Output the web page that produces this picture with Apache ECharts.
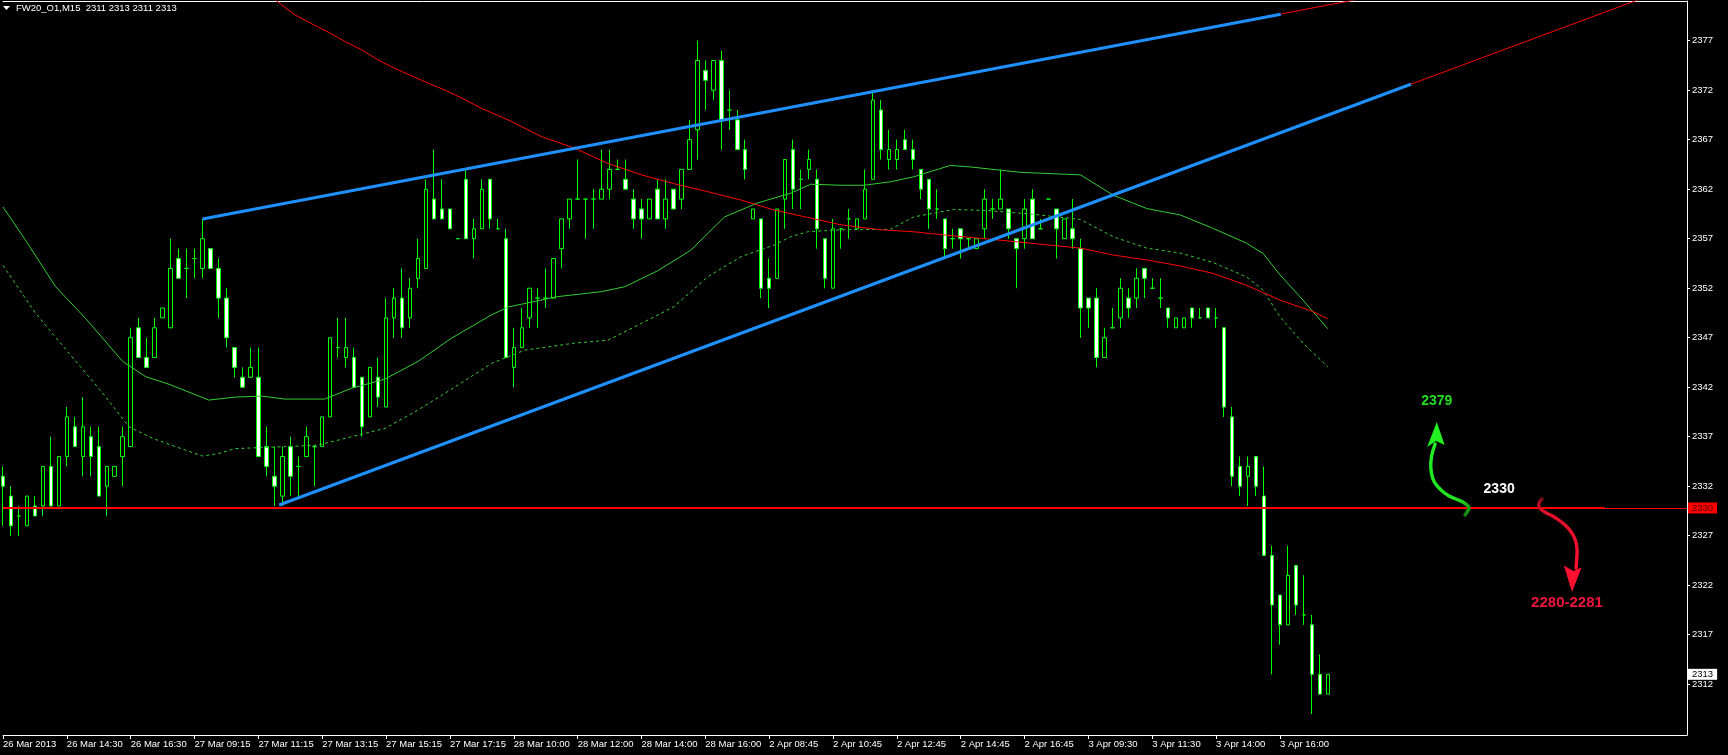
<!DOCTYPE html>
<html><head><meta charset="utf-8">
<script src="https://cdn.jsdelivr.net/npm/echarts@6/dist/echarts.min.js"></script>
<style>html,body{margin:0;padding:0;background:#000;}#c{width:1728px;height:755px;}</style>
</head><body><div id="c"></div>
<script>
// ---------- data ----------
const symbolName = 'FW20_O1,M15';
const tickLabels = ['26 Mar 2013','26 Mar 14:30','26 Mar 16:30','27 Mar 09:15','27 Mar 11:15','27 Mar 13:15','27 Mar 15:15','27 Mar 17:15','28 Mar 10:00','28 Mar 12:00','28 Mar 14:00','28 Mar 16:00','2 Apr 08:45','2 Apr 10:45','2 Apr 12:45','2 Apr 14:45','2 Apr 16:45','3 Apr 09:30','3 Apr 11:30','3 Apr 14:00','3 Apr 16:00'];
const barsPerLabel = 8;
const totalSlots = 212;
const yTicks = [2312,2317,2322,2327,2332,2337,2342,2347,2352,2357,2362,2367,2372,2377];

const opens = [2333,2331,2329,2328,2330,2330,2334,2330,2335,2338, 2335,2337,2336,2332,2333,2335,2336,2348,2345,2345,
 2349,2348,2355,2354,2355,2354,2356,2354,2351,2346, 2343,2343,2343,2336,2333,2331,2336,2334,2335,2336,
 2336,2339,2346,2345,2345,2343,2339,2343,2340,2349, 2351,2349,2353,2354,2361,2360,2360,2357,2363,2357,
 2358,2363,2358,2357,2344,2346,2349,2351,2351,2351, 2356,2359,2361,2361,2361,2361,2362,2364,2363,2361,
 2360,2359,2362,2359,2362,2361,2364,2368,2374,2372, 2375,2370,2369,2366,2359,2359,2353,2353,2361,2366,
 2363,2364,2363,2357,2352,2358,2359,2358,2359,2363, 2370,2365,2365,2367,2366,2364,2363,2360,2359,2357,
 2358,2357,2356,2358,2360,2360,2360,2357,2357,2361, 2358,2361,2360,2357,2358,2356,2351,2351,2345,2348,
 2349,2351,2351,2354,2352,2351,2350,2348,2348,2350, 2349,2350,2349,2348,2339,2334,2333,2335,2331,2325,
 2321,2318,2324,2319,2318,2313,2311];
const closes = [2332,2328,2329,2331,2329,2334,2330,2335,2339,2336, 2338,2335,2331,2334,2334,2337,2347,2345,2344,2348,
 2350,2354,2353,2354,2355,2357,2354,2351,2347,2344, 2342,2344,2335,2334,2332,2335,2333,2334,2337,2336,
 2339,2347,2346,2346,2342,2338,2344,2341,2349,2351, 2348,2352,2355,2362,2359,2359,2358,2357,2357,2358,
 2362,2359,2358,2345,2346,2348,2352,2351,2351,2355, 2359,2361,2361,2361,2361,2362,2364,2364,2362,2359,
 2359,2361,2359,2361,2360,2364,2367,2375,2373,2375, 2369,2370,2366,2364,2360,2352,2352,2360,2365,2362,
 2363,2365,2358,2353,2358,2358,2359,2359,2362,2371, 2366,2366,2366,2366,2365,2362,2360,2360,2356,2357,
 2357,2357,2357,2361,2360,2361,2358,2356,2360,2357, 2358,2361,2358,2359,2357,2350,2350,2345,2347,2348,
 2352,2350,2353,2353,2352,2351,2349,2349,2349,2349, 2349,2349,2349,2340,2333,2332,2334,2332,2325,2320,
 2318,2323,2320,2319,2313,2311,2313];
const lows = [2328,2327,2327,2328,2329,2329,2330,2330,2334,2336, 2333,2333,2331,2329,2333,2332,2336,2345,2344,2345,
 2349,2348,2353,2351,2353,2353,2354,2349,2346,2343, 2342,2343,2335,2333,2330,2330,2331,2331,2335,2332,
 2336,2339,2345,2344,2342,2337,2339,2340,2340,2347, 2347,2348,2352,2354,2359,2359,2358,2357,2357,2355,
 2358,2358,2358,2345,2342,2346,2348,2348,2350,2351, 2354,2358,2361,2357,2358,2361,2361,2364,2362,2358,
 2357,2359,2359,2358,2360,2360,2364,2365,2370,2371, 2366,2368,2366,2363,2359,2351,2350,2353,2358,2360,
 2360,2363,2356,2352,2352,2356,2357,2358,2359,2363, 2365,2364,2364,2366,2364,2361,2358,2359,2355,2356,
 2355,2356,2356,2357,2359,2360,2357,2352,2356,2357, 2358,2361,2355,2357,2356,2347,2348,2344,2345,2348,
 2348,2349,2350,2351,2352,2350,2348,2348,2348,2348, 2349,2349,2348,2339,2332,2331,2330,2331,2325,2313,
 2316,2318,2319,2318,2309,2311,2311];
const highs = [2334,2332,2330,2331,2331,2334,2337,2335,2340,2339, 2341,2338,2338,2334,2334,2338,2348,2349,2347,2349,
 2350,2357,2356,2356,2356,2359,2356,2355,2352,2346, 2344,2346,2346,2338,2336,2336,2337,2335,2338,2336,
 2339,2347,2349,2349,2346,2343,2344,2345,2351,2352, 2354,2353,2357,2363,2366,2363,2360,2357,2364,2359,
 2363,2363,2359,2358,2348,2350,2352,2352,2354,2355, 2359,2361,2365,2361,2362,2366,2366,2365,2365,2362,
 2361,2361,2363,2363,2362,2364,2369,2377,2375,2375, 2376,2372,2370,2367,2360,2359,2355,2360,2365,2367,
 2364,2366,2364,2357,2359,2358,2360,2359,2364,2372, 2371,2368,2367,2368,2367,2364,2363,2362,2359,2358,
 2358,2357,2357,2362,2361,2364,2360,2357,2361,2362, 2359,2361,2360,2359,2361,2357,2351,2352,2348,2350,
 2353,2352,2354,2354,2353,2353,2350,2349,2349,2350, 2350,2350,2350,2348,2340,2335,2335,2335,2334,2326,
 2321,2326,2324,2323,2319,2315,2313];

// moving averages: [bar index, price]
const maRed = [[30,2383.8],[34.3,2381.0],[36.6,2379.6],[38.7,2378.7],[40.8,2377.85],[42.9,2376.9],[45,2376.05],[47,2375.05],[49.1,2374.2],[51.2,2373.45],[53.3,2372.7],[55.4,2372.0],[57.5,2371.2],[60,2370.15],[63.3,2369.0],[67.5,2367.3],[71.6,2366.15],[75.8,2364.6],[80,2363.45],[84.1,2362.55],[88.3,2361.75],[92.5,2360.9],[96.6,2359.9],[100.8,2359.15],[105,2358.4],[110,2357.9],[114.1,2357.7],[118.3,2357.35],[123.7,2356.95],[128.7,2356.55],[135,2356.05],[139.1,2355.35],[143.3,2354.85],[147.5,2354.25],[151.6,2353.5],[155.8,2352.3],[160,2350.8],[164.1,2349.65],[166,2348.9]];
const maGreen = [[0,2360.2],[2.7,2357.0],[6.6,2352.15],[10.4,2348.9],[15,2344.6],[17.9,2343.05],[20.8,2342.3],[25.8,2340.7],[29.1,2341.0],[32.5,2341.1],[35.3,2340.8],[40.3,2340.8],[43.7,2341.9],[47.8,2342.8],[52,2344.6],[56.2,2346.95],[61.2,2349.3],[63.3,2350.1],[69.5,2351.15],[75,2351.65],[77.9,2352.15],[82,2353.75],[86.2,2355.85],[90.4,2359.2],[94.5,2360.6],[98.7,2361.6],[101.2,2362.5],[105,2362.4],[107.9,2362.4],[111.2,2362.75],[114.1,2363.25],[118.7,2364.4],[121.2,2364.25],[127.5,2363.7],[135,2363.45],[139.1,2361.4],[143.3,2360.05],[147.5,2359.4],[151.6,2358.05],[155.8,2356.55],[157.9,2355.5],[160,2353.35],[162.5,2351.15],[166,2347.9]];
const maGreenDash = [[0,2354.3],[4.1,2349.45],[8.3,2345.4],[12.5,2341.4],[15.8,2338.0],[18.7,2336.85],[21.6,2336.0],[25,2335.05],[27,2335.3],[29.1,2335.8],[35.4,2336.0],[39.5,2336.15],[43.7,2337.0],[47.9,2337.85],[52,2339.7],[56.2,2341.8],[61.2,2344.4],[65.4,2345.75],[71.6,2346.45],[75.8,2346.75],[80,2348.45],[84.1,2350.15],[88.3,2353.15],[92.5,2355.2],[96.6,2356.35],[98.7,2357.2],[100.8,2357.7],[105,2357.9],[111.2,2357.95],[114.1,2359.2],[119.1,2359.95],[123.3,2359.85],[128.7,2359.5],[135,2358.95],[139.1,2357.2],[143.3,2356.05],[147.5,2355.55],[151.6,2354.6],[155.8,2353.15],[157.9,2351.8],[160,2349.1],[162.9,2346.45],[166,2344.05]];

// trend lines / levels
const upperBlue = [[25,2359.0],[160.1,2379.67]];
const upperRay  = [[25,2359.0],[175,2381.98]];
const lowerBlue = [[34.6,2330.1],[176.4,2372.6]];
const lowerRay  = [[34.6,2330.1],[215,2384.17]];
const levelPrice = 2329.8;
const levelLabel = '2330';
const levelSeg = [[0,2329.8],[200.7,2329.8]];

// annotations: [bar index, price]
const noteUp = {text:'2379', at:[179.65,2340.64]};
const noteLevel = {text:'2330', at:[187.46,2331.69]};
const noteDown = {text:'2280-2281', at:[195.96,2320.17]};
const greenArrowAt = [183.7, 2329.8];
const redArrowAt = [192.5, 2329.8];

// ---------- chart ----------
const FONT = '"Liberation Sans", Arial, sans-serif';
const categories = Array.from({length: totalSlots}, (_, i) => String(i));
const candleData = opens.map((o, i) => [o, closes[i], lows[i], highs[i]]);
const last = opens.length - 1;
const showIdx = (i) => i % barsPerLabel === 0 && i / barsPerLabel < tickLabels.length;

const chart = echarts.init(document.getElementById('c'), null, {renderer: 'canvas'});

function lineS(data, color, width, type, z) {
  return {type: 'line', xAxisIndex: 1, yAxisIndex: 0, data: data, symbol: 'none', showSymbol: false,
    lineStyle: {color: color, width: width, type: type || 'solid'}, silent: true, z: z, clip: true,
    emphasis: {disabled: true}, animation: false};
}

const option = {
  backgroundColor: '#000000',
  animation: false,
  textStyle: {fontFamily: FONT},
  grid: {left: 0, right: 41, top: 1, bottom: 20, containLabel: false},
  xAxis: [
    {type: 'category', data: categories, boundaryGap: false, position: 'bottom',
     axisLine: {show: true, onZero: false, lineStyle: {color: '#ffffff', width: 1}},
     axisTick: {show: true, interval: (i) => showIdx(i), length: 4, inside: false, lineStyle: {color: '#ffffff'}},
     axisLabel: {show: true, interval: (i) => showIdx(i),
       formatter: (v, i) => { const k = Number(v); return showIdx(k) ? tickLabels[k / barsPerLabel] : ''; },
       color: '#ffffff', fontSize: 9.5, fontFamily: FONT, align: 'left', margin: 4},
     splitLine: {show: false}},
    {type: 'value', min: 0, max: totalSlots - 1, position: 'top',
     axisLine: {show: true, onZero: false, lineStyle: {color: '#ffffff', width: 1}},
     axisTick: {show: false}, axisLabel: {show: false}, splitLine: {show: false}}
  ],
  yAxis: [{type: 'value', position: 'right', min: 2306.87, max: 2381.01,
    axisLine: {show: true, onZero: false, lineStyle: {color: '#ffffff', width: 1}},
    axisTick: {show: true, length: 3, customValues: yTicks, lineStyle: {color: '#ffffff'}},
    axisLabel: {show: true, customValues: yTicks, color: '#ffffff', fontSize: 9.5, fontFamily: FONT, margin: 5,
      formatter: (v) => String(Math.round(v))},
    splitLine: {show: false}}],
  series: [
    {type: 'candlestick', xAxisIndex: 0, yAxisIndex: 0, data: candleData, barWidth: 4, z: 2,
     itemStyle: {color: '#000000', color0: '#ffffff', borderColor: '#00ff00', borderColor0: '#00ff00', borderColorDoji: '#00ff00', borderWidth: 1},
     emphasis: {disabled: true}, silent: true, animation: false},
    lineS(maGreen, '#33cc33', 1, 'solid', 3),
    lineS(maGreenDash, '#33cc33', 1, [3, 3], 3),
    lineS(maRed, '#ff0000', 1, 'solid', 3),
    lineS(upperRay, '#ff0000', 1, 'solid', 4),
    lineS(lowerRay, '#ff0000', 1, 'solid', 4),
    lineS(upperBlue, '#1e90ff', 3, 'solid', 5),
    lineS(lowerBlue, '#1e90ff', 3, 'solid', 5),
    Object.assign(lineS(levelSeg, '#ff0000', 2, 'solid', 6), {
      clip: false,
      markLine: {symbol: 'none', silent: true, animation: false, data: [
        {yAxis: levelPrice, lineStyle: {color: '#ff0000', width: 1, type: 'solid'},
         label: {show: true, position: 'end', formatter: levelLabel, backgroundColor: '#ff0000', color: '#500000',
           fontSize: 9.5, fontFamily: FONT, padding: [1, 4, 0, 4], distance: 1}},
        {yAxis: closes[last], lineStyle: {color: 'rgba(0,0,0,0)', width: 1, type: 'solid'},
         label: {show: true, position: 'end', formatter: String(closes[last]), backgroundColor: '#ffffff', color: '#000000',
           fontSize: 9.5, fontFamily: FONT, padding: [1, 4, 0, 4], distance: 1}}
      ]}
    })
  ]
};
chart.setOption(option);

// ---------- annotations ----------
const P = (d) => chart.convertToPixel({xAxisIndex: 1, yAxisIndex: 0}, d);
const off = (a, pts) => pts.map(p => [a[0] + p[0], a[1] + p[1]]);

const gA = P(greenArrowAt);
const rA = P(redArrowAt);
const gShaft = off(gA, [[-34,-64],[-37.5,-52],[-38.3,-40.3],[-36.5,-30],[-33.3,-23.7],[-27,-17],[-20,-12],[-12,-8.5],[-6.7,-6.3],[-1.5,-2.5],[0,0],[-2,4],[-4,7]]);
const gHead = off(gA, [[-32.3,-86],[-42,-61],[-33,-67],[-24.5,-63]]);
const rShaft = off(rA, [[2.5,-9],[0,-5.5],[-0.5,-1.5],[1.7,1.3],[7,5],[13.3,8],[20,12.5],[26.7,18],[31.5,23.5],[35,29.7],[37,36],[37.7,43],[37.3,52],[36.7,60]]);
const rHead = off(rA, [[32.7,84],[24.5,57.5],[34,63],[42.2,59.5]]);

const pUp = P(noteUp.at), pLv = P(noteLevel.at), pDn = P(noteDown.at);

chart.setOption({graphic: [
  {type: 'polygon', shape: {points: [[3,6],[10,6],[6.5,10]]}, style: {fill: '#ffffff'}, z: 100, silent: true},
  {type: 'text', x: 16, y: 8, style: {text: symbolName + '  ' + opens[last] + ' ' + highs[last] + ' ' + lows[last] + ' ' + closes[last],
     fill: '#ffffff', font: '9.5px ' + FONT, align: 'left', verticalAlign: 'middle'}, z: 100, silent: true},
  {type: 'polyline', shape: {points: gShaft, smooth: 0.4}, style: {fill: null, lineWidth: 3.4, lineCap: 'round',
     stroke: new echarts.graphic.LinearGradient(0, 0, 1, 1, [{offset: 0, color: '#22f022'}, {offset: 0.75, color: '#22e022'}, {offset: 1, color: '#0d6f0d'}])}, z: 100, silent: true},
  {type: 'polygon', shape: {points: gHead}, style: {fill: '#22f022'}, z: 101, silent: true},
  {type: 'polyline', shape: {points: rShaft, smooth: 0.4}, style: {fill: null, lineWidth: 3.4, lineCap: 'round',
     stroke: new echarts.graphic.LinearGradient(0, 0, 0, 1, [{offset: 0, color: '#7a0a18'}, {offset: 0.2, color: '#e0102c'}, {offset: 1, color: '#ff1030'}])}, z: 100, silent: true},
  {type: 'polygon', shape: {points: rHead}, style: {fill: '#ff1030'}, z: 101, silent: true},
  {type: 'text', x: pUp[0], y: pUp[1], style: {text: noteUp.text, fill: '#22dd22', font: 'bold 14px ' + FONT, align: 'center', verticalAlign: 'middle'}, z: 102, silent: true},
  {type: 'text', x: pLv[0], y: pLv[1], style: {text: noteLevel.text, fill: '#ffffff', font: 'bold 14px ' + FONT, align: 'center', verticalAlign: 'middle'}, z: 102, silent: true},
  {type: 'text', x: pDn[0], y: pDn[1], style: {text: noteDown.text, fill: '#f0143c', font: 'bold 15px ' + FONT, align: 'center', verticalAlign: 'middle'}, z: 102, silent: true}
]});
</script></body></html>
